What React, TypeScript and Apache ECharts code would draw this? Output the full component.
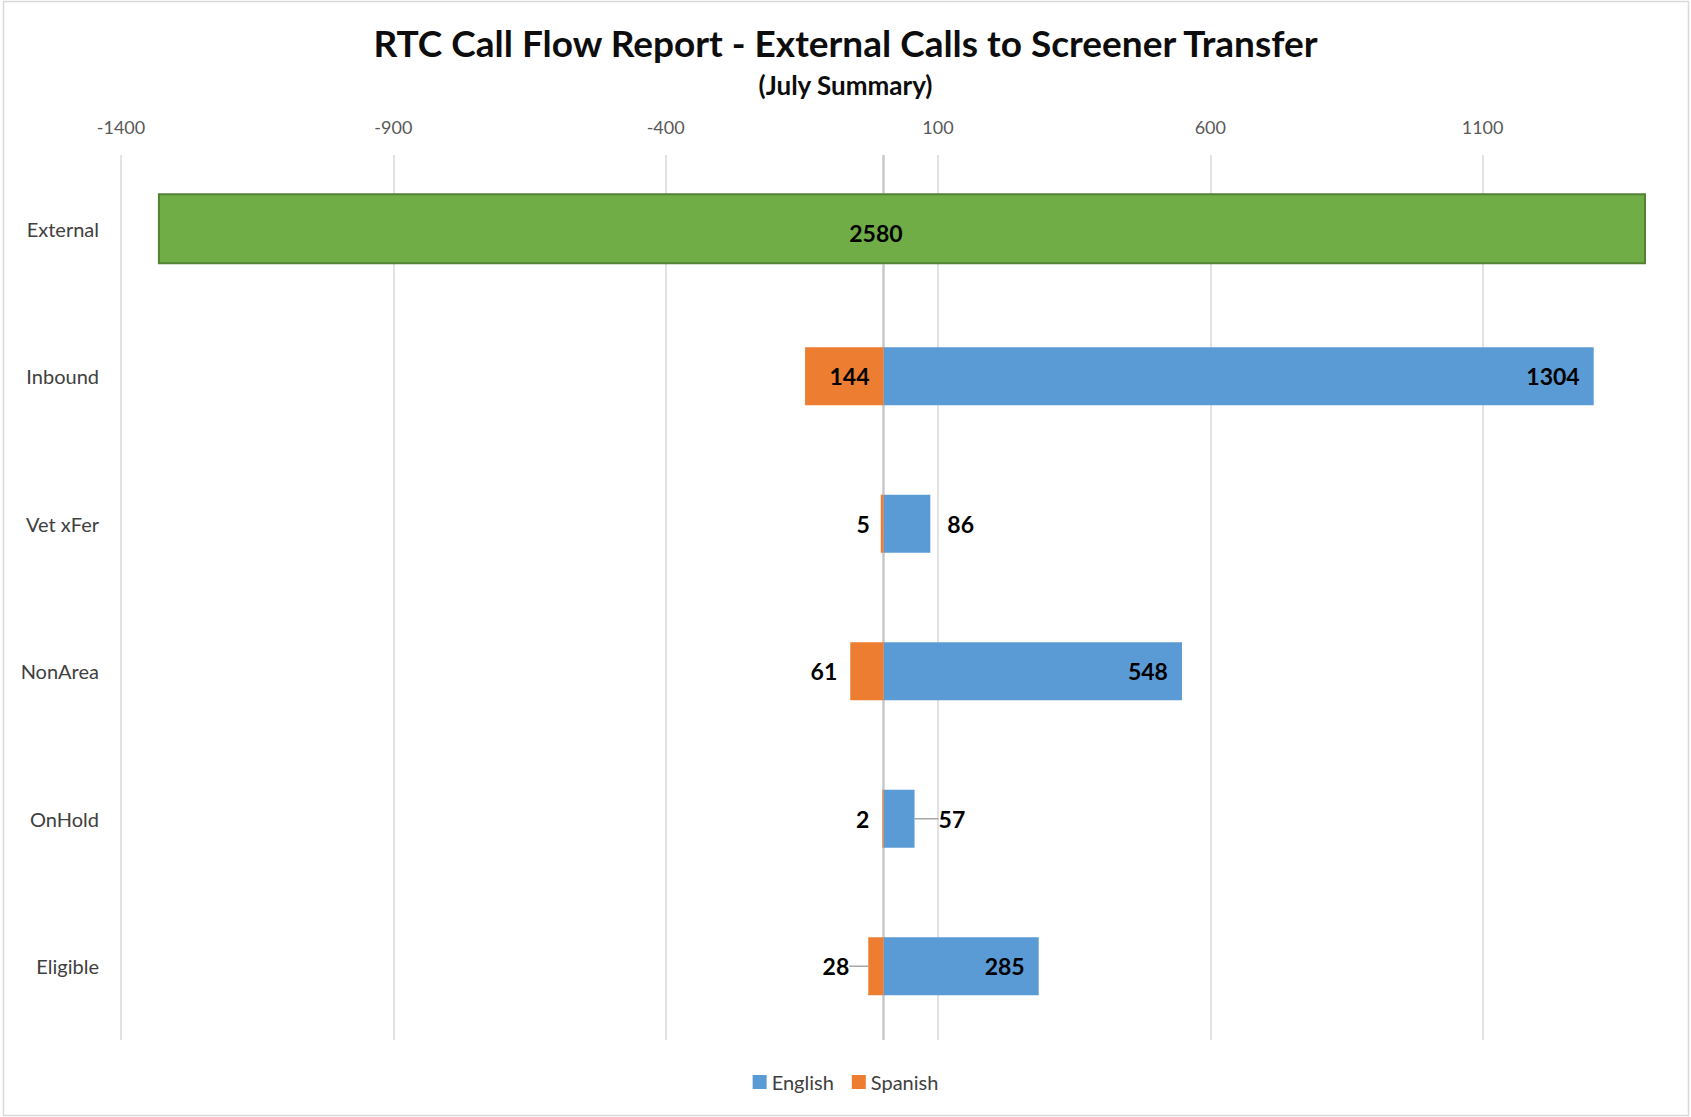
import React, { useEffect, useRef } from "react";
import * as echarts from "echarts";

// ---- data ----
const categories = ["External", "Inbound", "Vet xFer", "NonArea", "OnHold", "Eligible"];
const externalCalls = [2580, null, null, null, null, null];
const englishCalls = [null, 1304, 86, 548, 57, 285];
const spanishCalls = [null, 144, 5, 61, 2, 28];

// axis settings
const axisMin = -1400;
const axisMax = 1400;
const axisInterval = 500;
const externalAxisMin = -64;
const externalAxisMax = 2580;

// label placement (style)
const englishLabelPos = [null, "insideRight", "right", "insideRight", "right", "insideRight"];
const englishLabelDist = [0, 14, 17, 14, 5, 14];
const englishLabelDx = [0, 0, 0, 0, 19, 0];
const spanishLabelPos = [null, "insideRight", "left", "left", "left", "left"];
const spanishLabelDist = [0, 14, 11, 13, 13, 5];
const spanishLabelDx = [0, 0, 0, 0, 0, -14];

const EXTERNAL_BAR_WIDTH = 71;
const LANG_BAR_WIDTH = 58;
const FONT = "Lato, 'Open Sans', sans-serif";

export default function App() {
  const ref = useRef<HTMLDivElement>(null);

  useEffect(() => {
    if (!ref.current) return;
    const chart = echarts.init(ref.current, null, { renderer: "svg" });

    const labelBase = { show: true, fontSize: 23, fontWeight: "bold", color: "#000", fontFamily: FONT };

    const englishData = englishCalls.map((v, i) => {
      if (v == null) return "-";
      const item: any = {
        value: v,
        label: { ...labelBase, position: englishLabelPos[i], distance: englishLabelDist[i] },
      };
      if (englishLabelDx[i]) item.labelLine = { show: true, lineStyle: { color: "#a6a6a6", width: 1.5 } };
      return item;
    });
    const spanishData = spanishCalls.map((v, i) => {
      if (v == null) return "-";
      const item: any = {
        value: -v,
        label: {
          ...labelBase,
          position: spanishLabelPos[i],
          distance: spanishLabelDist[i],
          formatter: (p: any) => String(Math.abs(p.value)),
        },
      };
      if (spanishLabelDx[i]) item.labelLine = { show: true, lineStyle: { color: "#a6a6a6", width: 1.5 } };
      return item;
    });

    const border = {
      type: "rect",
      shape: { x: 3.5, y: 1.5, width: 1685, height: 1114 },
      style: { fill: "none", stroke: "#d9d9d9", lineWidth: 1.5 },
      silent: true,
    };

    const option: any = {
      animation: false,
      textStyle: { fontFamily: FONT },
      title: [
        {
          text: "RTC Call Flow Report - External Calls to Screener Transfer",
          left: "center",
          top: 19,
          textStyle: { fontSize: 37, fontWeight: "bold", color: "#0d0d0d", fontFamily: FONT },
        },
        {
          text: "(July Summary)",
          left: "center",
          top: 67,
          textStyle: { fontSize: 26, fontWeight: "bold", color: "#0d0d0d", fontFamily: FONT },
        },
      ],
      legend: {
        data: ["English", "Spanish"],
        left: "center",
        top: 1067,
        icon: "rect",
        itemWidth: 14,
        itemHeight: 14,
        itemGap: 18,
        textStyle: { fontSize: 20, color: "#404040", fontFamily: FONT },
      },
      grid: { left: 121, right: 45, top: 155, bottom: 77 },
      xAxis: [
        {
          type: "value",
          position: "top",
          min: axisMin,
          max: axisMax,
          interval: axisInterval,
          axisLine: { show: false },
          axisTick: { show: false },
          axisLabel: {
            showMaxLabel: false,
            color: "#595959",
            fontSize: 18,
            margin: 19,
            fontFamily: FONT,
            formatter: (v: number) => String(v),
          },
          splitLine: { show: true, showMaxLine: false, lineStyle: { color: "#d9d9d9", width: 1.5 } },
        },
        {
          type: "value",
          show: false,
          min: externalAxisMin,
          max: externalAxisMax,
          splitLine: { show: false },
        },
      ],
      yAxis: [
        {
          type: "category",
          inverse: true,
          data: categories,
          axisLine: { show: false },
          axisTick: { show: false },
          axisLabel: { fontSize: 20, color: "#404040", margin: 22, fontFamily: FONT, padding: [0, 0, 4, 0] },
        },
        {
          type: "category",
          inverse: true,
          data: categories,
          show: false,
        },
      ],
      series: [
        {
          name: "External",
          type: "bar",
          xAxisIndex: 1,
          yAxisIndex: 1,
          barWidth: EXTERNAL_BAR_WIDTH,
          data: externalCalls.map((v) => (v == null ? "-" : v)),
          itemStyle: { color: "#70AD47", borderColor: "#548235", borderWidth: 2 },
          label: { ...labelBase, position: "inside", offset: [-26, 4] },
        },
        {
          name: "English",
          type: "bar",
          stack: "lang",
          barWidth: LANG_BAR_WIDTH,
          data: englishData,
          itemStyle: { color: "#5B9BD5" },
          labelLayout: (p: any) => (englishLabelDx[p.dataIndex] ? { dx: englishLabelDx[p.dataIndex] } : {}),
        },
        {
          name: "Spanish",
          type: "bar",
          stack: "lang",
          barWidth: LANG_BAR_WIDTH,
          data: spanishData,
          itemStyle: { color: "#ED7D31" },
          labelLayout: (p: any) => (spanishLabelDx[p.dataIndex] ? { dx: spanishLabelDx[p.dataIndex] } : {}),
        },
      ],
      graphic: [border],
    };

    chart.setOption(option);

    // zero line: computed from the chart's own scales, interrupted behind the External bar
    const x0 = chart.convertToPixel({ xAxisIndex: 0 }, 0) as number;
    const yFirst = chart.convertToPixel({ yAxisIndex: 0 }, categories[0]) as number;
    const ySecond = chart.convertToPixel({ yAxisIndex: 0 }, categories[1]) as number;
    const yLast = chart.convertToPixel({ yAxisIndex: 0 }, categories[categories.length - 1]) as number;
    const band = ySecond - yFirst;
    const gridTop = yFirst - band / 2;
    const gridBottom = yLast + band / 2;
    const extTop = yFirst - EXTERNAL_BAR_WIDTH / 2;
    const extBottom = yFirst + EXTERNAL_BAR_WIDTH / 2;
    const zeroStyle = { stroke: "#c8c8c8", lineWidth: 2.5 };

    chart.setOption({
      graphic: [
        border,
        { type: "line", silent: true, shape: { x1: x0, y1: gridTop, x2: x0, y2: extTop }, style: zeroStyle },
        { type: "line", silent: true, shape: { x1: x0, y1: extBottom, x2: x0, y2: gridBottom }, style: zeroStyle },
      ],
    });

    return () => chart.dispose();
  }, []);

  return (
    <div
      ref={ref}
      style={{ position: "absolute", left: 0, top: 0, width: 1691, height: 1117, background: "#fff" }}
    />
  );
}
